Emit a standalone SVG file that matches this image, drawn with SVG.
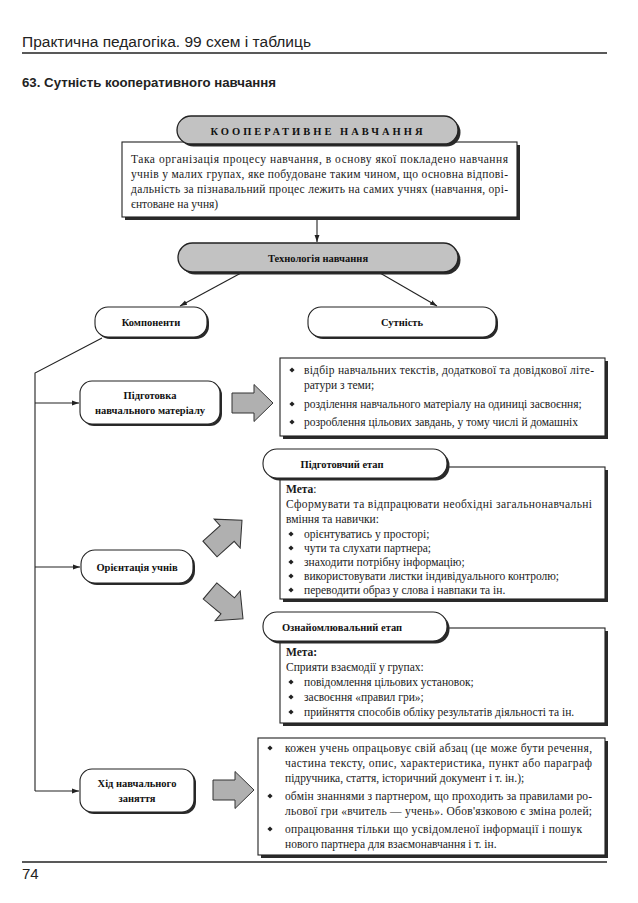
<svg xmlns="http://www.w3.org/2000/svg" xmlns:xlink="http://www.w3.org/1999/xlink" width="638" height="903" viewBox="0 0 638 903">
<defs>
<style>
.hdr{font-family:"Liberation Sans",Arial,sans-serif;fill:#222}
.t{font-family:"Liberation Serif","Times New Roman",serif;font-size:11.5px;fill:#1a1a1a}
.lb{font-family:"Liberation Serif","Times New Roman",serif;font-size:10.5px;font-weight:bold;fill:#111;text-anchor:middle}
.b{font-weight:bold}
.box{fill:#fff;stroke:#222;stroke-width:1.1}
.gray{fill:#c2c2c2;stroke:#222;stroke-width:1.3}
.sh{fill:#2a2a2a}
.conn{stroke:#222;stroke-width:1.1;fill:none}
.blk{fill:#b0b0b0;stroke:#333;stroke-width:1}
.rule{stroke:#222;stroke-width:1.3}
</style>
<marker id="ah" viewBox="0 0 10 10" refX="10" refY="5" markerWidth="7" markerHeight="7" orient="auto" markerUnits="userSpaceOnUse">
<path d="M0,1.5 L10,5 L0,8.5 Z" fill="#222"/>
</marker>
<path id="dia" d="M0,-2.6 L2.6,0 L0,2.6 L-2.6,0 Z" fill="#222"/>
<path id="barrow" d="M0,-10 L22,-10 L22,-18.5 L41,0 L22,18.5 L22,10 L0,10 Z"/>
</defs>

<rect width="638" height="903" fill="#fff"/>

<g id="header">
<text class="hdr" x="22" y="47" font-size="15.5">Практична педагогіка. 99 схем і таблиць</text>
<line class="rule" x1="22" y1="53" x2="607" y2="53"/>
<text class="hdr" x="22" y="87" font-size="12.5" font-weight="bold" textLength="254" lengthAdjust="spacingAndGlyphs">63. Сутність кооперативного навчання</text>
</g>

<g id="connectors">
<line class="conn" x1="317" y1="217" x2="317" y2="242" marker-end="url(#ah)"/>
<line class="conn" x1="241" y1="273" x2="180" y2="306" marker-end="url(#ah)"/>
<line class="conn" x1="380" y1="273" x2="437" y2="306" marker-end="url(#ah)"/>
<polyline class="conn" points="102,338 35,373 35,791"/>
<line class="conn" x1="35" y1="403" x2="79" y2="403" marker-end="url(#ah)"/>
<line class="conn" x1="35" y1="567" x2="80" y2="567" marker-end="url(#ah)"/>
<line class="conn" x1="35" y1="791" x2="79" y2="791" marker-end="url(#ah)"/>
<use href="#barrow" class="blk" transform="translate(232,403)"/>
<use href="#barrow" class="blk" transform="translate(210,549) rotate(-42) scale(1.05)"/>
<use href="#barrow" class="blk" transform="translate(210,591) rotate(40) scale(1.05)"/>
<use href="#barrow" class="blk" transform="translate(213,790)"/>
</g>

<g id="definition">
<rect class="sh" x="125" y="145" width="395" height="75"/>
<rect class="box" x="122" y="142" width="395" height="75"/>
<text class="t" x="131" y="163" textLength="377" lengthAdjust="spacing">Така організація процесу навчання, в основу якої покладено навчання</text>
<text class="t" x="131" y="178" textLength="377" lengthAdjust="spacing">учнів у малих групах, яке побудоване таким чином, що основна відпові-</text>
<text class="t" x="131" y="193" textLength="377" lengthAdjust="spacing">дальність за пізнавальний процес лежить на самих учнях (навчання, орі-</text>
<text class="t" x="131" y="208">єнтоване на учня)</text>
</g>

<g id="cooperative">
<rect class="sh" x="179.5" y="118.5" width="281" height="28" rx="14"/>
<rect class="gray" x="177" y="116" width="281" height="28" rx="14"/>
<text class="lb" x="318" y="135" font-size="12" letter-spacing="3">КООПЕРАТИВНЕ НАВЧАННЯ</text>
</g>

<g id="technology">
<rect class="sh" x="180.5" y="245.5" width="280" height="29" rx="14.5"/>
<rect class="gray" x="178" y="243" width="280" height="29" rx="14.5"/>
<text class="lb" x="318" y="262">Технологія навчання</text>
</g>

<g id="components">
<rect class="sh" x="97" y="309" width="112" height="30" rx="13"/>
<rect class="box" x="95" y="307" width="112" height="30" rx="13"/>
<text class="lb" x="151" y="326">Компоненти</text>
</g>

<g id="essence">
<rect class="sh" x="310" y="309" width="188" height="30" rx="13"/>
<rect class="box" x="308" y="307" width="188" height="30" rx="13"/>
<text class="lb" x="402" y="326">Сутність</text>
</g>

<g id="prep-material">
<rect class="sh" x="82" y="383" width="140" height="43" rx="12"/>
<rect class="box" x="80" y="381" width="140" height="43" rx="12"/>
<text class="lb" x="150" y="399">Підготовка</text>
<text class="lb" x="150" y="414">навчального матеріалу</text>
</g>

<g id="prep-list">
<rect class="sh" x="283" y="361" width="325" height="78"/>
<rect class="box" x="280" y="358" width="325" height="78"/>
<use href="#dia" x="292" y="370"/>
<text class="t" x="304" y="374" textLength="290" lengthAdjust="spacing">відбір навчальних текстів, додаткової та довідкової літе-</text>
<text class="t" x="304" y="389">ратури з теми;</text>
<use href="#dia" x="292" y="404"/>
<text class="t" x="304" y="408">розділення навчального матеріалу на одиниці засвоєння;</text>
<use href="#dia" x="292" y="422"/>
<text class="t" x="304" y="426">розроблення цільових завдань, у тому числі й домашніх</text>
</g>

<g id="stage-prep-box">
<rect class="sh" x="283" y="470" width="325" height="132"/>
<rect class="box" x="280" y="467" width="325" height="132"/>
<text class="t" x="286" y="493"><tspan class="b">Мета</tspan>:</text>
<text class="t" x="286" y="508" textLength="306" lengthAdjust="spacing">Сформувати та відпрацювати необхідні загальнонавчальні</text>
<text class="t" x="286" y="523">вміння та навички:</text>
<use href="#dia" x="291" y="534"/>
<text class="t" x="304" y="538">орієнтуватись у просторі;</text>
<use href="#dia" x="291" y="548"/>
<text class="t" x="304" y="552">чути та слухати партнера;</text>
<use href="#dia" x="291" y="562"/>
<text class="t" x="304" y="566">знаходити потрібну інформацію;</text>
<use href="#dia" x="291" y="576"/>
<text class="t" x="304" y="580">використовувати листки індивідуального контролю;</text>
<use href="#dia" x="291" y="590"/>
<text class="t" x="304" y="594">переводити образ у слова і навпаки та ін.</text>
</g>

<g id="stage-prep">
<rect class="sh" x="265.5" y="451.5" width="184" height="29" rx="14"/>
<rect class="box" x="263" y="449" width="184" height="29" rx="14"/>
<text class="lb" x="342" y="468">Підготовчий етап</text>
</g>

<g id="orientation">
<rect class="sh" x="83" y="552" width="112" height="33" rx="14"/>
<rect class="box" x="81" y="550" width="112" height="33" rx="14"/>
<text class="lb" x="137" y="571">Орієнтація учнів</text>
</g>

<g id="stage-intro-box">
<rect class="sh" x="283" y="631" width="325" height="95"/>
<rect class="box" x="280" y="628" width="325" height="95"/>
<text class="t" x="286" y="656"><tspan class="b">Мета:</tspan></text>
<text class="t" x="286" y="671">Сприяти взаємодії у групах:</text>
<use href="#dia" x="291" y="682"/>
<text class="t" x="304" y="686">повідомлення цільових установок;</text>
<use href="#dia" x="291" y="697"/>
<text class="t" x="304" y="701">засвоєння «правил гри»;</text>
<use href="#dia" x="291" y="712"/>
<text class="t" x="304" y="716">прийняття способів обліку результатів діяльності та ін.</text>
</g>

<g id="stage-intro">
<rect class="sh" x="265.5" y="614.5" width="184" height="29" rx="14"/>
<rect class="box" x="263" y="612" width="184" height="29" rx="14"/>
<text class="lb" x="342" y="631">Ознайомлювальний етап</text>
</g>

<g id="lesson">
<rect class="sh" x="82" y="771" width="114" height="43" rx="12"/>
<rect class="box" x="80" y="769" width="114" height="43" rx="12"/>
<text class="lb" x="137" y="787">Хід навчального</text>
<text class="lb" x="137" y="802">заняття</text>
</g>

<g id="lesson-list">
<rect class="sh" x="261" y="741" width="347" height="117"/>
<rect class="box" x="258" y="738" width="347" height="117"/>
<use href="#dia" x="270" y="748"/>
<text class="t" x="285" y="752" textLength="307" lengthAdjust="spacing">кожен учень опрацьовує свій абзац (це може бути речення,</text>
<text class="t" x="285" y="767" textLength="307" lengthAdjust="spacing">частина тексту, опис, характеристика, пункт або параграф</text>
<text class="t" x="285" y="782">підручника, стаття, історичний документ і т. ін.);</text>
<use href="#dia" x="270" y="796"/>
<text class="t" x="285" y="800" textLength="307" lengthAdjust="spacing">обмін знаннями з партнером, що проходить за правилами ро-</text>
<text class="t" x="285" y="815" textLength="307" lengthAdjust="spacing">льової гри «вчитель — учень». Обов'язковою є зміна ролей;</text>
<use href="#dia" x="270" y="829"/>
<text class="t" x="285" y="833" textLength="297" lengthAdjust="spacing">опрацювання тільки що усвідомленої інформації і пошук</text>
<text class="t" x="285" y="848">нового партнера для взаємонавчання і т. ін.</text>
</g>

<g id="footer">
<line class="rule" x1="22" y1="862" x2="607" y2="862"/>
<text class="hdr" x="22" y="879" font-size="15">74</text>
</g>
</svg>
